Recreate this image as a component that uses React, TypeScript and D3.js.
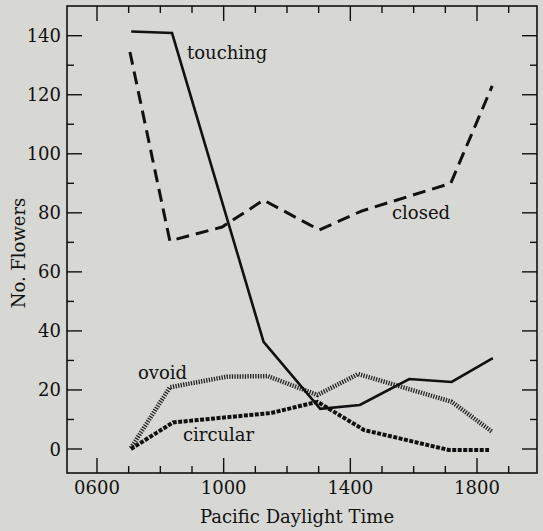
import React from "react";
import * as d3 from "d3";

// data: [time in decimal hours, number of flowers]
const touching: [number, number][] = [
  [7.08, 141.4], [8.37, 140.9], [11.26, 36.3], [13.05, 13.6], [14.3, 14.9], [15.86, 23.7], [17.2, 22.7], [18.5, 30.8],
];
const closed: [number, number][] = [
  [7.04, 134.5], [8.3, 70.5], [9.95, 75.2], [11.26, 84.3], [13.02, 74.2], [14.35, 80.6], [17.17, 90], [18.48, 123],
];
const ovoid: [number, number][] = [
  [7.07, 0.3], [8.3, 20.9], [10.1, 24.5], [11.39, 24.7], [12.96, 18.3], [14.25, 25.4], [17.2, 16.0], [18.47, 5.9],
];
const circular: [number, number][] = [
  [7.07, 0], [8.4, 9.0], [11.5, 12.2], [12.96, 16.0], [14.44, 6.4], [17.1, -0.3], [18.38, -0.3],
];

const xTickHours = d3.range(6, 20, 1);
const xMajorLabels = [6, 10, 14, 18];
const yTicks = d3.range(0, 150, 10);
const yMajorLabels = [0, 20, 40, 60, 80, 100, 120, 140];

const W = 543, H = 531;
const FONT = "DejaVu Serif";

export default function App() {
  const x = d3.scaleLinear().domain([6, 18]).range([97, 477]);
  const y = d3.scaleLinear().domain([0, 140]).range([449, 35.7]);
  const left = 67, right = 537, top = 6, bottom = 473;
  const line = d3.line<[number, number]>().x(d => x(d[0])).y(d => y(d[1]));
  const fmt = (h: number) => String(h * 100).padStart(4, "0");

  return (
    <svg width={W} height={H} style={{ position: "fixed", left: 0, top: 0, background: "#d7d8d3" }}>
      <rect x={0} y={0} width={W} height={H} fill="#d7d8d3" />
      <rect x={left} y={top} width={right - left} height={bottom - top} fill="none" stroke="#111" strokeWidth={1.6} />
      {xTickHours.map(h => {
        const major = xMajorLabels.includes(h);
        const len = major ? 15 : 7;
        return (
          <g key={"x" + h}>
            <line x1={x(h)} x2={x(h)} y1={bottom} y2={bottom - len} stroke="#111" strokeWidth={1.4} />
            <line x1={x(h)} x2={x(h)} y1={top} y2={top + len} stroke="#111" strokeWidth={1.4} />
            {major && (
              <text x={x(h)} y={494} textAnchor="middle" fontFamily={FONT} fontSize={18} fill="#111">{fmt(h)}</text>
            )}
          </g>
        );
      })}
      {yTicks.map(v => {
        const major = yMajorLabels.includes(v);
        const len = major ? 15 : 7;
        return (
          <g key={"y" + v}>
            <line x1={left} x2={left + len} y1={y(v)} y2={y(v)} stroke="#111" strokeWidth={1.4} />
            <line x1={right} x2={right - len} y1={y(v)} y2={y(v)} stroke="#111" strokeWidth={1.4} />
            {major && (
              <text x={61} y={y(v) + 6.5} textAnchor="end" fontFamily={FONT} fontSize={18} fill="#111">{v}</text>
            )}
          </g>
        );
      })}
      <text x={297} y={523} textAnchor="middle" fontFamily={FONT} fontSize={18} fill="#111">Pacific Daylight Time</text>
      <text transform={`translate(25,253) rotate(-90)`} textAnchor="middle" fontFamily={FONT} fontSize={18} fill="#111">No. Flowers</text>

      <path d={line(closed) || ""} fill="none" stroke="#111" strokeWidth={3} strokeDasharray="13 7" />
      <path d={line(ovoid) || ""} fill="none" stroke="#222" strokeWidth={4.5} strokeDasharray="1.3 1.3" />
      <path d={line(circular) || ""} fill="none" stroke="#111" strokeWidth={4} strokeDasharray="4 1.5" />
      <path d={line(touching) || ""} fill="none" stroke="#111" strokeWidth={2.6} strokeLinejoin="miter" />

      <text x={187} y={59} fontFamily={FONT} fontSize={18} fill="#111">touching</text>
      <text x={392} y={219} fontFamily={FONT} fontSize={18} fill="#111">closed</text>
      <text x={138} y={379} fontFamily={FONT} fontSize={18} fill="#111">ovoid</text>
      <text x={183} y={441} fontFamily={FONT} fontSize={18} fill="#111">circular</text>
    </svg>
  );
}
